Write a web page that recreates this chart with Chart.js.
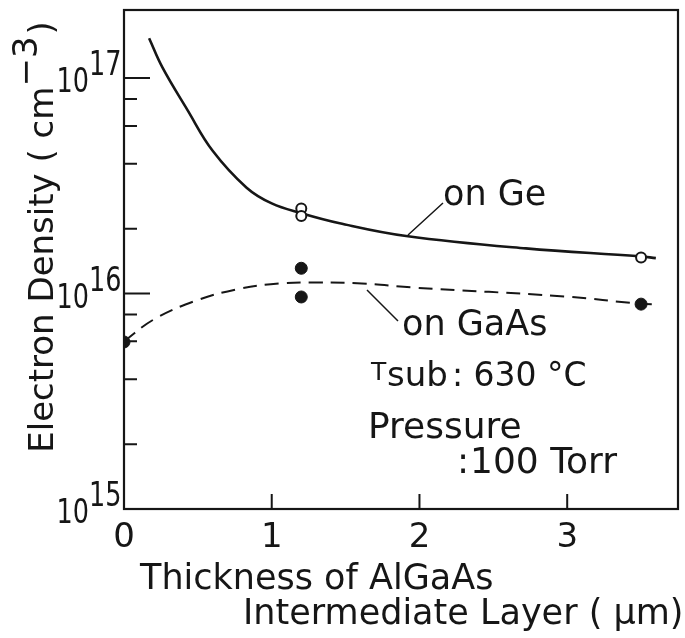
<!DOCTYPE html>
<html>
<head>
<meta charset="utf-8">
<title>Electron density vs AlGaAs thickness</title>
<script src="https://cdn.jsdelivr.net/npm/chart.js@4.4.0/dist/chart.umd.min.js"></script>
<style>
  body { margin: 0; background: #fff; }
</style>
</head>
<body>
<canvas id="densityChart" width="685" height="638"></canvas>
<script>
// fitted curves
const geCurveThickness = [0.17, 0.26, 0.43, 0.60, 0.83, 1.0, 1.2, 1.46, 1.91, 2.72, 3.49, 3.6];
const geCurveDensity = [1.53e17, 1.12e17, 7.1e16, 4.6e16, 3.1e16, 2.62e16, 2.36e16, 2.12e16, 1.85e16, 1.62e16, 1.49e16, 1.46e16];
const gaasCurveThickness = [0, 0.2, 0.47, 0.76, 1.05, 1.32, 1.61, 1.95, 2.99, 3.49, 3.62];
const gaasCurveDensity = [6.0e15, 7.57e15, 9.18e15, 1.045e16, 1.114e16, 1.125e16, 1.114e16, 1.067e16, 9.68e15, 8.97e15, 8.9e15];

// measured points
const geThickness = [1.2, 1.2, 3.5];
const geDensity = [2.48e16, 2.29e16, 1.47e16];
const gaasThickness = [0, 1.2, 1.2, 3.5];
const gaasDensity = [5.96e15, 1.31e16, 9.64e15, 8.93e15];

// axes
const xTickValues = [0, 1, 2, 3];
const xTickLabels = ['0', '1', '2', '3'];
const yMajorTicks = [1e15, 1e16, 1e17];
const yMajorExponents = ['15', '16', '17'];
const yMinorTicks = [2e15, 4e15, 6e15, 8e15, 2e16, 4e16, 6e16, 8e16];

const toPoints = (xs, ys) => xs.map((x, i) => ({ x: x, y: ys[i] }));
const INK = '#161616';
const FONT = '"DejaVu Sans", sans-serif';

const framePlugin = {
    id: 'frame',
    afterDraw(chart) {
        const ctx = chart.ctx;
        const area = chart.chartArea;
        const xs = chart.scales.x;
        const ys = chart.scales.y;
        ctx.save();
        ctx.strokeStyle = INK;
        ctx.fillStyle = INK;
        ctx.lineWidth = 2.2;
        ctx.strokeRect(area.left, area.top, area.right - area.left, area.bottom - area.top);

        // ticks point inward
        ctx.lineWidth = 2;
        ctx.beginPath();
        xTickValues.forEach(v => {
            if (v === 0) return;
            const px = xs.getPixelForValue(v);
            ctx.moveTo(px, area.bottom);
            ctx.lineTo(px, area.bottom - 15);
        });
        yMajorTicks.forEach(v => {
            const py = ys.getPixelForValue(v);
            ctx.moveTo(area.left, py);
            ctx.lineTo(area.left + 26, py);
        });
        yMinorTicks.forEach(v => {
            const py = ys.getPixelForValue(v);
            ctx.moveTo(area.left, py);
            ctx.lineTo(area.left + 13, py);
        });
        ctx.stroke();

        // tick labels
        ctx.font = '34px ' + FONT;
        ctx.textAlign = 'center';
        ctx.textBaseline = 'alphabetic';
        xTickValues.forEach((v, i) => {
            ctx.fillText(xTickLabels[i], xs.getPixelForValue(v), area.bottom + 38);
        });
        yMajorTicks.forEach((v, i) => {
            const py = ys.getPixelForValue(v);
            ctx.save();
            ctx.translate(area.left - 35, py + 14);
            ctx.scale(0.75, 1);
            ctx.textAlign = 'right';
            ctx.fillText('10', 0, 0);
            ctx.restore();
            ctx.save();
            ctx.translate(area.left - 35, py - 3);
            ctx.scale(0.75, 1);
            ctx.textAlign = 'left';
            ctx.fillText(yMajorExponents[i], 0, 0);
            ctx.restore();
        });

        // axis titles
        ctx.font = '35px ' + FONT;
        ctx.textAlign = 'left';
        ctx.fillText('Thickness of AlGaAs', 140, 589);
        ctx.fillText('Intermediate Layer ( \u03bcm)', 243, 624);

        ctx.save();
        ctx.font = '34px ' + FONT;
        ctx.translate(53, 238);
        ctx.rotate(-Math.PI / 2);
        const part1 = 'Electron Density ( cm';
        const sup = '\u22123';
        const part2 = ')';
        const w1 = ctx.measureText(part1).width;
        const ws = ctx.measureText(sup).width;
        const w2 = ctx.measureText(part2).width;
        const start = -(w1 + ws + w2) / 2;
        ctx.fillText(part1, start, 0);
        ctx.fillText(sup, start + w1, -16);
        ctx.fillText(part2, start + w1 + ws + 2, 0);
        ctx.restore();

        // curve labels with leader lines
        ctx.lineWidth = 1.5;
        ctx.beginPath();
        ctx.moveTo(408, 235);
        ctx.lineTo(443, 203);
        ctx.moveTo(367, 290);
        ctx.lineTo(398, 321);
        ctx.stroke();
        ctx.font = '35px ' + FONT;
        ctx.fillText('on Ge', 443, 205);
        ctx.fillText('on GaAs', 402, 335);

        // growth conditions
        ctx.font = '25px ' + FONT;
        ctx.fillText('T', 371, 380);
        ctx.font = '34px ' + FONT;
        ctx.fillText('sub', 387, 386);
        ctx.font = '33px ' + FONT;
        ctx.fillText(': 630 \u00b0C', 452, 386);
        ctx.font = '36px ' + FONT;
        ctx.fillText('Pressure', 368, 438);
        ctx.fillText(':', 457, 473);
        ctx.fillText('100 Torr', 470, 473);
        ctx.restore();
    }
};

const ctx = document.getElementById('densityChart').getContext('2d');
const densityChart = new Chart(ctx, {
    type: 'scatter',
    data: {
        datasets: [
            {
                label: 'on Ge (measured)',
                data: toPoints(geThickness, geDensity),
                showLine: false,
                pointStyle: 'circle',
                pointRadius: 5,
                pointBackgroundColor: '#fff',
                pointBorderColor: INK,
                pointBorderWidth: 2
            },
            {
                label: 'on GaAs (measured)',
                data: toPoints(gaasThickness, gaasDensity),
                showLine: false,
                pointStyle: 'circle',
                pointRadius: 6,
                pointBackgroundColor: INK,
                pointBorderColor: INK,
                pointBorderWidth: 1
            },
            {
                label: 'on Ge',
                data: toPoints(geCurveThickness, geCurveDensity),
                showLine: true,
                borderColor: INK,
                borderWidth: 2.6,
                pointRadius: 0,
                tension: 0.4,
                fill: false
            },
            {
                label: 'on GaAs',
                data: toPoints(gaasCurveThickness, gaasCurveDensity),
                showLine: true,
                borderColor: INK,
                borderWidth: 2,
                borderDash: [14, 8],
                pointRadius: 0,
                tension: 0.4,
                fill: false
            }
        ]
    },
    options: {
        responsive: false,
        animation: false,
        devicePixelRatio: 1,
        layout: {
            padding: { left: 124, right: 6, top: 10, bottom: 129 }
        },
        scales: {
            x: { type: 'linear', min: 0, max: 3.75, display: false },
            y: { type: 'logarithmic', min: 1e15, max: 2.07e17, display: false }
        },
        plugins: {
            legend: { display: false },
            tooltip: { enabled: false }
        }
    },
    plugins: [framePlugin]
});
</script>
</body>
</html>
